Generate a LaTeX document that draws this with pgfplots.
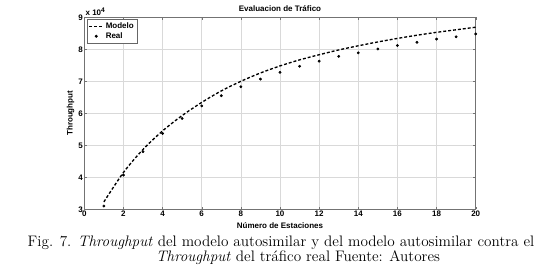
\documentclass[border=0pt]{standalone}
\usepackage{pgfplots}
\pgfplotsset{compat=1.18}
\usepackage{fontspec}
\setsansfont{Liberation Sans}
\pgfplotsset{
  legline/.style={legend image code/.code={\draw[##1] (0cm,0cm) -- (0.36cm,0cm);}},
  legmark/.style={legend image code/.code={\draw[mark repeat=2,mark phase=2,##1] plot coordinates {(0cm,0cm)(0.18cm,0cm)(0.36cm,0cm)};}},
}
\begin{document}
\begin{tikzpicture}[x=0.75pt,y=0.75pt]
\useasboundingbox (0,0) rectangle (550,271);
\begin{axis}[
  at={(63.225pt,46.275pt)}, anchor=south west,
  width=293.55pt, height=144pt, scale only axis,
  xmin=0, xmax=20, ymin=3, ymax=9,
  xtick={0,2,...,20}, ytick={3,4,...,9},
  /pgf/number format/assume math mode=true,
  tick label style={font=\sffamily\bfseries\fontsize{6}{7}\selectfont},
  xticklabel style={inner sep=1pt},
  yticklabel style={inner sep=1pt},
  grid=major, major grid style={gray!30, line width=0.5pt},
  axis line style={black!55, line width=0.5pt},
  tick align=inside, major tick length=2pt, tick style={black!55},
  every axis title shift=0pt,
  title={Evaluacion de Tráfico},
  title style={at={(axis description cs:0.5,1)}, anchor=base, yshift=4.4pt, inner sep=0pt, font=\sffamily\bfseries\fontsize{6}{7}\selectfont},
  xlabel={Número de Estaciones},
  xlabel style={at={(axis description cs:0.5,-0.087)}, anchor=center, inner sep=0pt, font=\sffamily\bfseries\fontsize{6}{7}\selectfont},
  ylabel={Throughput},
  ylabel style={at={(axis description cs:-0.035,0.5)}, anchor=center, inner sep=0pt, font=\sffamily\bfseries\fontsize{6}{7}\selectfont},
  legend style={at={(axis description cs:0.008,0.99)}, anchor=north west, draw=black!60, inner sep=0.8pt, row sep=-1.5pt, font=\sffamily\bfseries\fontsize{6}{7}\selectfont, fill=white, nodes={inner sep=1.5pt}},
  legend cell align=left,
  after end axis/.code={\node[anchor=south west, inner sep=0.8pt, font=\sffamily\bfseries\fontsize{6}{7}\selectfont] at (rel axis cs:0,1) {x 10\textsuperscript{4}};},
]
\addplot[black, line width=1pt, smooth, dash pattern=on 2.2pt off 1.5pt, legline]
coordinates {
(1,3.23)(2,4.15)(3,4.87)(4,5.45)(5,5.93)(6,6.34)(7,6.70)(8,7.00)(9,7.26)(10,7.48)
(11,7.67)(12,7.83)(13,7.98)(14,8.11)(15,8.23)(16,8.34)(17,8.44)(18,8.53)(19,8.61)(20,8.69)
};
\addlegendentry{Modelo}
\addplot[only marks, mark=*, mark size=0.85pt, black, legmark]
coordinates {
(1,3.10)(2,4.07)(3,4.80)(4,5.37)(5,5.84)(6,6.23)(7,6.55)(8,6.83)(9,7.07)(10,7.28)
(11,7.47)(12,7.63)(13,7.78)(14,7.89)(15,8.01)(16,8.12)(17,8.22)(18,8.32)(19,8.39)(20,8.48)
};
\addlegendentry{Real}
\end{axis}
\node[font=\fontsize{11.4}{13}\selectfont, inner sep=0pt] at (281,28) {Fig. 7. \textit{Throughput} del modelo autosimilar y del modelo autosimilar contra el};
\node[font=\fontsize{11.4}{13}\selectfont, inner sep=0pt] at (298,13) {\textit{Throughput} del tráfico real Fuente: Autores};
\end{tikzpicture}
\end{document}
